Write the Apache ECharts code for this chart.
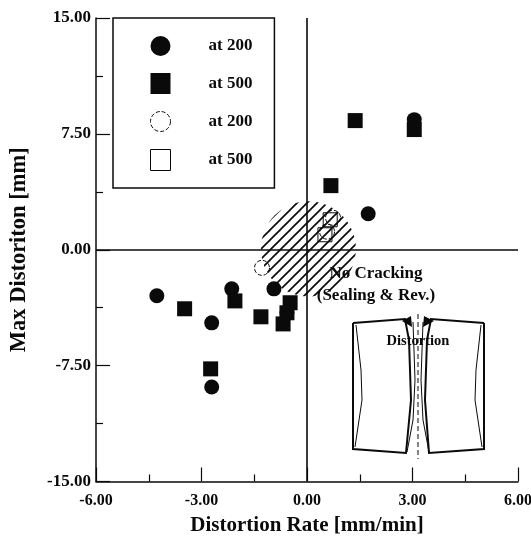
<!DOCTYPE html>
<html><head><meta charset="utf-8">
<style>html,body{margin:0;padding:0;background:#fff}#c{width:531px;height:536px}</style>
<script src="https://cdn.jsdelivr.net/npm/echarts@6/dist/echarts.min.js"></script>
</head><body><div id="c"></div>
<script>
const filledCircles = [[-4.27,-2.98],[-2.14,-2.53],[-2.71,-4.73],[-2.71,-8.88],[-0.94,-2.53],[3.05,8.42],[1.74,2.33],[-0.57,-4.08]];
const filledSquares = [[-3.48,-3.82],[-2.05,-3.31],[-1.31,-4.34],[-0.68,-4.80],[-0.48,-3.43],[-0.57,-4.08],[-2.74,-7.71],[1.37,8.36],[0.68,4.15],[3.05,7.78]];
const openCircles = [[-1.28,-1.17],[0.74,2.07],[0.57,1.17]];
const openSquares = [[0.51,0.97],[0.66,1.94]];
const noCrackingCentre = [[0.04,0.06]];
const legendNames = ['at 200','at 500','at 200 ','at 500 '];
const FONT = '"Liberation Serif","Times New Roman",serif';
const INK = '#0a0a0a';

const hatch = document.createElement('canvas');
hatch.width = 10; hatch.height = 10;
const g = hatch.getContext('2d');
g.strokeStyle = INK; g.lineWidth = 1.7;
[[-5,5,5,-5],[0,10,10,0],[5,15,15,5]].forEach(s=>{g.beginPath();g.moveTo(s[0],s[1]);g.lineTo(s[2],s[3]);g.stroke();});

const ln = (shape,w)=>({type:'polyline',silent:true,z:20,shape:{points:shape},style:{stroke:INK,fill:null,lineWidth:w}});
const tri = (a)=>({type:'polygon',silent:true,z:20,shape:{points:a},style:{fill:INK}});
const inset = [
  ln([[353,323],[405,319],[409,340],[411,400],[406,453],[353,449],[353,323]],2),
  ln([[484,323],[431,319],[427,340],[425,400],[429,453],[484,449],[484,323]],2),
  ln([[356,325],[361,370],[362,400],[355,447]],1),
  ln([[481,325],[476,370],[475,400],[482,447]],1),
  ln([[413,322],[415,380],[413,420],[407,452]],1),
  ln([[423,322],[421,380],[423,420],[429,452]],1),
  {type:'line',silent:true,z:20,shape:{x1:418,y1:314,x2:418,y2:459},style:{stroke:INK,lineWidth:1,lineDash:[5,3]}},
  tri([[402,321],[411,316],[412,327]]),
  tri([[434,321],[424,316],[423,327]])
];
const txt = (x,y,t,s)=>({type:'text',silent:true,z:30,x:x,y:y,style:{text:t,font:'bold '+s+'px '+FONT,fill:INK,align:'center',verticalAlign:'middle',lineHeight:22}});

const chart = echarts.init(document.getElementById('c'),null,{renderer:'canvas'});
const axisCommon = {
  axisLine:{show:true,onZero:false,lineStyle:{color:INK,width:1.5}},
  axisTick:{show:true,inside:true,length:14,lineStyle:{color:INK,width:1.2}},
  minorTick:{show:true,splitNumber:2,length:7,lineStyle:{color:INK,width:1.2}},
  splitLine:{show:false},minorSplitLine:{show:false},
  axisLabel:{color:INK,fontFamily:FONT,fontWeight:'bold',fontSize:16,formatter:v=>v.toFixed(2),showMinLabel:true,showMaxLabel:true},
  nameLocation:'middle',
  nameTextStyle:{color:INK,fontFamily:FONT,fontWeight:'bold',fontSize:21}
};
const mk = (name,data,symbol,size,filled)=>({
  name,type:'scatter',data,symbol,symbolSize:size,z:filled?6:5,
  itemStyle:filled?{color:INK,opacity:1}:{color:'rgba(255,255,255,0)',borderColor:INK,borderWidth:1,borderType:symbol==='circle'?'dashed':'solid',opacity:1}
});
const firstSeries = mk(legendNames[0],filledCircles,'circle',15,true);
firstSeries.markLine = {silent:true,symbol:'none',animation:false,label:{show:false},lineStyle:{color:INK,width:1.6,type:'solid'},
  data:[{xAxis:0},{yAxis:0}]};
chart.setOption({
  animation:false,
  backgroundColor:'#fff',
  grid:{left:96,right:13,top:18,bottom:54.5,containLabel:false,outerBoundsMode:'none'},
  xAxis:Object.assign({},axisCommon,{type:'value',min:-6,max:6,interval:3,name:'Distortion Rate [mm/min]',nameGap:34,
    axisLabel:Object.assign({},axisCommon.axisLabel,{margin:11})}),
  yAxis:Object.assign({},axisCommon,{type:'value',min:-15,max:15,interval:7.5,name:'Max Distoriton [mm]',nameGap:65,
    nameTextStyle:Object.assign({},axisCommon.nameTextStyle,{fontSize:22.5}),
    axisLabel:Object.assign({},axisCommon.axisLabel,{margin:5,fontSize:17})}),
  legend:{
    data:[legendNames[0],legendNames[1],
      {name:legendNames[2],itemStyle:{borderWidth:1,borderType:'dashed'}},
      {name:legendNames[3],itemStyle:{borderWidth:1}}],
    orient:'vertical',left:113,top:18,
    padding:[18,22,17,37],itemWidth:20,itemHeight:21,itemGap:17,
    borderColor:INK,borderWidth:1.5,backgroundColor:'#fff',selectedMode:false,
    formatter:n=>n.trim(),
    textStyle:{color:INK,fontFamily:FONT,fontWeight:'bold',fontSize:17,padding:[0,0,0,33]}
  },
  series:[
    {name:'No Cracking',type:'custom',data:noCrackingCentre,silent:true,z:2,clip:false,
     renderItem:(params,api)=>{
       const c = api.coord([api.value(0),api.value(1)]);
       return {type:'circle',shape:{cx:c[0],cy:c[1],r:47.5},style:{fill:{image:hatch,repeat:'repeat'},stroke:null}};
     },
     encode:{x:0,y:1}},
    firstSeries,
    mk(legendNames[1],filledSquares,'rect',15,true),
    mk(legendNames[2],openCircles,'circle',15,false),
    mk(legendNames[3],openSquares,'rect',14,false)
  ],
  graphic:inset.concat([
    txt(376,285,'No Cracking\n(Sealing & Rev.)',17),
    txt(418,341,'Distortion',14.5)
  ])
});
</script></body></html>
